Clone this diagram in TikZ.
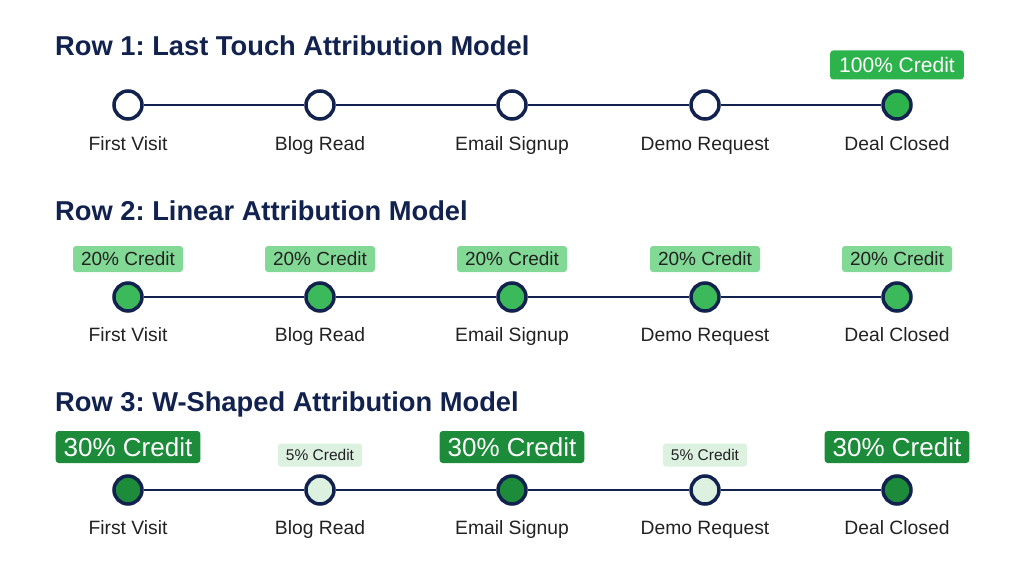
\documentclass[tikz,border=0pt]{standalone}
\usepackage{fontspec}
\setmainfont{Liberation Sans}
\definecolor{navy}{HTML}{12224F}
\definecolor{txt}{HTML}{222222}
\definecolor{gmid}{HTML}{2DB34C}
\definecolor{glite}{HTML}{82D895}
\definecolor{gfill}{HTML}{3CB95A}
\definecolor{gdark}{HTML}{1C8B3A}
\definecolor{gpale}{HTML}{DDF1E1}
\frenchspacing
\begin{document}
\begin{tikzpicture}[x=1pt,y=-1pt,
  title/.style={anchor=base west,inner sep=0,font=\fontsize{27.3}{30}\selectfont\bfseries,text=navy},
  dot/.style={circle,draw=navy,line width=3.5pt,minimum size=28pt,inner sep=0},
  lbl/.style={anchor=base,inner sep=0,font=\fontsize{19.3}{22}\selectfont,text=txt},
  link/.style={draw=navy,line width=2.5pt},
  badgeA/.style={fill=gmid,rounded corners=3pt,text=white,font=\fontsize{21}{23}\selectfont,inner xsep=9pt,minimum height=29pt},
  badgeB/.style={fill=glite,rounded corners=3pt,text=txt,font=\fontsize{19}{21}\selectfont,inner xsep=8pt,minimum height=26pt},
  badgeC/.style={fill=gdark,rounded corners=3pt,text=white,font=\fontsize{26}{28}\selectfont,inner xsep=8pt,minimum height=32pt},
  badgeD/.style={fill=gpale,rounded corners=3pt,text=txt,font=\fontsize{15.5}{17}\selectfont,inner xsep=8pt,minimum height=23pt}
]
\useasboundingbox[fill=white] (0,0) rectangle (1024,572);
\def\xa{128}\def\xb{320}\def\xc{512}\def\xd{705}\def\xe{897}
% Row 1
\node[title] (t1) at (55,56) {Row 1: Last Touch Attribution Model};
\node[badgeA] (c1e) at (\xe,65) {100\% Credit};
\node[dot,fill=white] (r1a) at (\xa,105) {};
\node[dot,fill=white] (r1b) at (\xb,105) {};
\node[dot,fill=white] (r1c) at (\xc,105) {};
\node[dot,fill=white] (r1d) at (\xd,105) {};
\node[dot,fill=gmid] (r1e) at (\xe,105) {};
\foreach \p/\q in {r1a/r1b,r1b/r1c,r1c/r1d,r1d/r1e}{\draw[link] (\p) -- (\q);}
\node[lbl] (l1a) at (\xa,150) {First Visit};
\node[lbl] (l1b) at (\xb,150) {Blog Read};
\node[lbl] (l1c) at (\xc,150) {Email Signup};
\node[lbl] (l1d) at (\xd,150) {Demo Request};
\node[lbl] (l1e) at (\xe,150) {Deal Closed};
% Row 2
\node[title] (t2) at (55,220) {Row 2: Linear Attribution Model};
\node[badgeB] (c2a) at (\xa,259) {20\% Credit};
\node[badgeB] (c2b) at (\xb,259) {20\% Credit};
\node[badgeB] (c2c) at (\xc,259) {20\% Credit};
\node[badgeB] (c2d) at (\xd,259) {20\% Credit};
\node[badgeB] (c2e) at (\xe,259) {20\% Credit};
\node[dot,fill=gfill] (r2a) at (\xa,297) {};
\node[dot,fill=gfill] (r2b) at (\xb,297) {};
\node[dot,fill=gfill] (r2c) at (\xc,297) {};
\node[dot,fill=gfill] (r2d) at (\xd,297) {};
\node[dot,fill=gfill] (r2e) at (\xe,297) {};
\foreach \p/\q in {r2a/r2b,r2b/r2c,r2c/r2d,r2d/r2e}{\draw[link] (\p) -- (\q);}
\node[lbl] (l2a) at (\xa,341) {First Visit};
\node[lbl] (l2b) at (\xb,341) {Blog Read};
\node[lbl] (l2c) at (\xc,341) {Email Signup};
\node[lbl] (l2d) at (\xd,341) {Demo Request};
\node[lbl] (l2e) at (\xe,341) {Deal Closed};
% Row 3
\node[title] (t3) at (55,411) {Row 3: W-Shaped Attribution Model};
\node[badgeC] (c3a) at (\xa,447) {30\% Credit};
\node[badgeD] (c3b) at (\xb,455) {5\% Credit};
\node[badgeC] (c3c) at (\xc,447) {30\% Credit};
\node[badgeD] (c3d) at (\xd,455) {5\% Credit};
\node[badgeC] (c3e) at (\xe,447) {30\% Credit};
\node[dot,fill=gdark] (r3a) at (\xa,490) {};
\node[dot,fill=gpale] (r3b) at (\xb,490) {};
\node[dot,fill=gdark] (r3c) at (\xc,490) {};
\node[dot,fill=gpale] (r3d) at (\xd,490) {};
\node[dot,fill=gdark] (r3e) at (\xe,490) {};
\foreach \p/\q in {r3a/r3b,r3b/r3c,r3c/r3d,r3d/r3e}{\draw[link] (\p) -- (\q);}
\node[lbl] (l3a) at (\xa,534) {First Visit};
\node[lbl] (l3b) at (\xb,534) {Blog Read};
\node[lbl] (l3c) at (\xc,534) {Email Signup};
\node[lbl] (l3d) at (\xd,534) {Demo Request};
\node[lbl] (l3e) at (\xe,534) {Deal Closed};
\end{tikzpicture}
\end{document}
